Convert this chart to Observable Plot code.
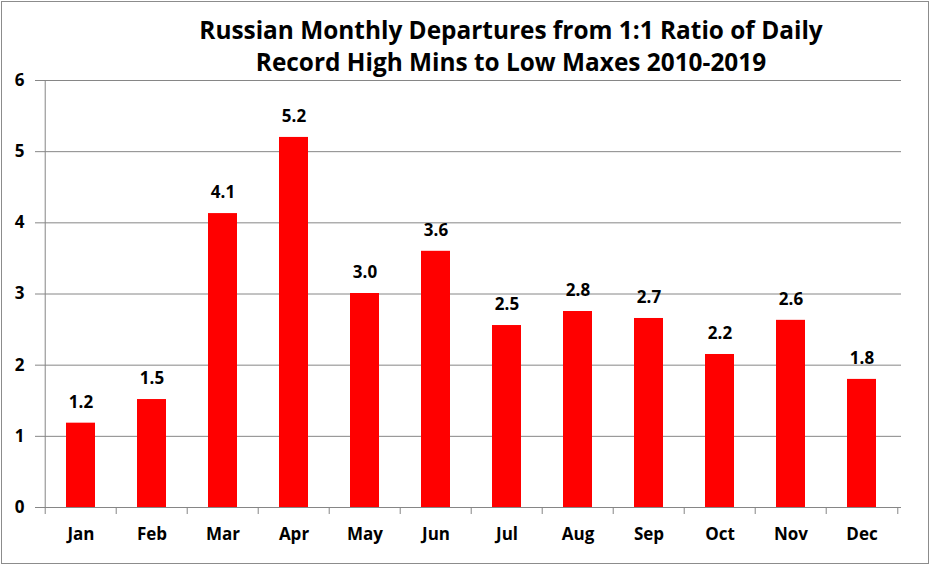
<!DOCTYPE html>
<html>
<head>
<meta charset="utf-8">
<script src="https://cdn.jsdelivr.net/npm/d3@7"></script>
<script src="https://cdn.jsdelivr.net/npm/@observablehq/plot@0.6"></script>
<style>
  html, body { margin: 0; padding: 0; background: white; }
  #wrap { position: relative; width: 930px; height: 565px; overflow: hidden; background: white; }
  #title { position: absolute; left: 111px; width: 800px; top: 14px; text-align: center;
    font-family: "Open Sans", Lato, sans-serif; font-weight: bold; font-size: 24.4px; line-height: 32px; color: black; }
  #border { position: absolute; left: 1px; top: 1px; width: 928px; height: 563px; box-sizing: border-box;
    border: 1px solid #8c8c8c; pointer-events: none; }
</style>
</head>
<body>
<div id="wrap">
  <div id="chart"></div>
  <div id="title">Russian Monthly Departures from 1:1 Ratio of Daily<br>Record High Mins to Low Maxes 2010-2019</div>
  <div id="border"></div>
</div>
<script>
const months = ["Jan","Feb","Mar","Apr","May","Jun","Jul","Aug","Sep","Oct","Nov","Dec"];
const values = [1.185, 1.517, 4.13, 5.2, 3.007, 3.6, 2.557, 2.754, 2.656, 2.15, 2.63, 1.8];
const labels = ["1.2","1.5","4.1","5.2","3.0","3.6","2.5","2.8","2.7","2.2","2.6","1.8"];
const yTicks = [0,1,2,3,4,5,6];

const W = 930, H = 565, ML = 42, MR = 29, MT = 80, MB = 58;
const step = (W - ML - MR) / months.length;
const pxPerUnit = (H - MT - MB) / 6;
const gridColor = "#868686";
const font = "'Open Sans', Lato, sans-serif";

const data = months.map((m, i) => ({month: m, value: values[i], label: labels[i]}));

const chart = Plot.plot({
  width: W, height: H,
  marginLeft: ML, marginRight: MR, marginTop: MT, marginBottom: MB,
  style: {fontFamily: font, fontWeight: "bold", fontSize: "17px", color: "black", background: "white"},
  x: {domain: months, paddingInner: 0.59, paddingOuter: 0.295, axis: null},
  y: {domain: [0, 6], axis: null},
  marks: [
    Plot.gridY(yTicks, {stroke: gridColor, strokeOpacity: 1}),
    Plot.axisY(yTicks, {label: null, tickSize: 7, tickPadding: 11, stroke: gridColor, fill: "black", fontSize: 17, fontWeight: "bold", tickFormat: d => String(d)}),
    Plot.barY(data, {x: "month", y: "value", fill: "#ff0000"}),
    Plot.ruleY([0], {stroke: gridColor}),
    Plot.ruleX(months, {x: d => d, dx: -step / 2, y1: 0, y2: -7 / pxPerUnit, stroke: gridColor}),
    Plot.ruleX([months[months.length - 1]], {x: d => d, dx: step / 2, y1: 0, y2: -7 / pxPerUnit, stroke: gridColor}),
    Plot.ruleX([months[0]], {x: d => d, dx: -step / 2, y1: 0, y2: 6, stroke: gridColor}),
    Plot.text(data, {x: "month", y: "value", text: "label", dy: -21, fontSize: 17, fontWeight: "bold", fill: "black"}),
    Plot.axisX(months, {label: null, tickSize: 0, tickPadding: 20, fontSize: 17, fontWeight: "bold", fill: "black"})
  ]
});
document.getElementById("chart").appendChild(chart);
</script>
</body>
</html>
